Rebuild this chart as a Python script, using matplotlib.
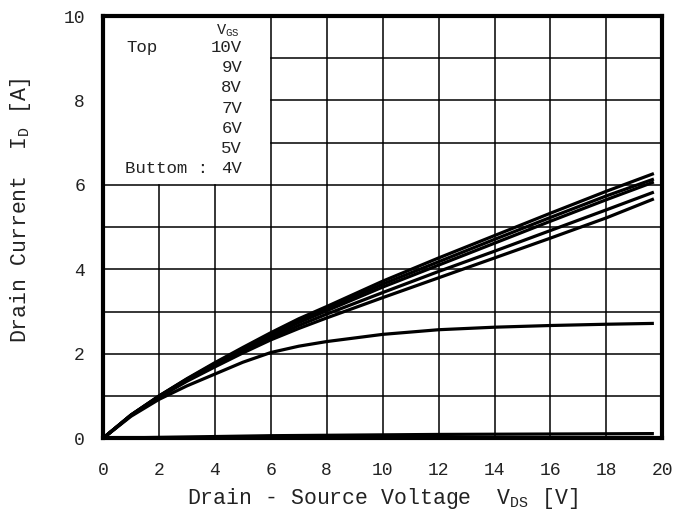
import matplotlib
matplotlib.use('Agg')
import matplotlib.pyplot as plt
import numpy as np

# drain-source voltage points (V)
vds = [0, 1, 2, 3, 4, 5, 6, 7, 8, 10, 12, 14, 16, 18, 19.7]

# drain current (A) for each gate voltage
id_10v = [0, 0.55, 1.00, 1.41, 1.79, 2.15, 2.50, 2.83, 3.12, 3.72, 4.27, 4.80, 5.33, 5.85, 6.27]
id_9v = [0, 0.55, 1.00, 1.40, 1.77, 2.12, 2.46, 2.78, 3.07, 3.65, 4.18, 4.71, 5.23, 5.74, 6.14]
id_8v = [0, 0.55, 0.99, 1.39, 1.75, 2.10, 2.43, 2.74, 3.02, 3.58, 4.10, 4.62, 5.14, 5.65, 6.07]
id_7v = [0, 0.54, 0.98, 1.37, 1.72, 2.06, 2.38, 2.67, 2.94, 3.45, 3.95, 4.43, 4.92, 5.41, 5.83]
id_6v = [0, 0.54, 0.97, 1.35, 1.69, 2.02, 2.33, 2.60, 2.85, 3.33, 3.80, 4.27, 4.74, 5.22, 5.67]
id_5v = [0, 0.52, 0.92, 1.24, 1.52, 1.80, 2.03, 2.18, 2.29, 2.46, 2.57, 2.63, 2.67, 2.70, 2.72]
id_4v = [0, 0.01, 0.02, 0.03, 0.04, 0.05, 0.06, 0.065, 0.07, 0.08, 0.09, 0.095, 0.10, 0.105, 0.11]

legend_rows = ["10V", "9V", "8V", "7V", "6V", "5V", "4V"]
xticks = [0, 2, 4, 6, 8, 10, 12, 14, 16, 18, 20]
yticks = [0, 2, 4, 6, 8, 10]

plt.rcParams['font.family'] = ['Liberation Mono', 'DejaVu Sans']
plt.rcParams['mathtext.default'] = 'regular'

fig = plt.figure(figsize=(6.87, 5.18), dpi=100)
ax = fig.add_axes([0.150, 0.154, 0.814, 0.815])
ax.set_xlim(0, 20)
ax.set_ylim(0, 10)

# grid, left open where the legend box sits (x 0..6, y 6..10)
for gx in range(2, 20, 2):
    top = 6 if gx < 6 else 10
    ax.plot([gx, gx], [0, top], color='black', lw=1.1, zorder=1)
for gy in range(1, 10):
    left = 6 if gy > 6 else 0
    ax.plot([left, 20], [gy, gy], color='black', lw=1.1, zorder=1)

for curve in [id_10v, id_9v, id_8v, id_7v, id_6v, id_5v, id_4v]:
    ax.plot(vds, curve, color='black', lw=2.3, zorder=3, solid_capstyle='butt')

for s in ax.spines.values():
    s.set_linewidth(3)
    s.set_zorder(4)

ax.set_xticks(xticks)
ax.set_yticks(yticks)
ax.tick_params(length=0, labelsize=13, colors='#222222')
ax.tick_params(axis='x', pad=17)
ax.tick_params(axis='y', pad=13)

ax.set_xlabel("Drain - Source Voltage  $V_{DS}$ [V]", fontsize=15.5, labelpad=5,
              color='#222222')
ax.set_ylabel("Drain Current  $I_D$ [A]", fontsize=15.5, color='#222222')
ax.yaxis.set_label_coords(-0.125, 0.54)

# legend block text
ax.text(4.45, 9.64, "$V_{GS}$", fontsize=11, ha='center', va='center', color='#222222')
ax.text(0.85, 9.26, "Top", fontsize=12.5, ha='left', va='center', color='#222222')
row_y = 9.26
for lab in legend_rows:
    ax.text(4.97, row_y, lab, fontsize=12.5, ha='right', va='center', color='#222222')
    row_y -= 0.48
ax.text(0.79, 6.38, "Buttom :", fontsize=12.5, ha='left', va='center', color='#222222')

fig.savefig('out.png', dpi=100)
